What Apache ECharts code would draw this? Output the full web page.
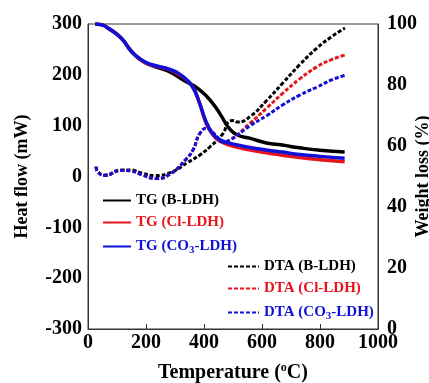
<!DOCTYPE html>
<html>
<head>
<meta charset="utf-8">
<script src="https://cdn.jsdelivr.net/npm/echarts@6/dist/echarts.min.js"></script>
<style>
  html, body { margin: 0; padding: 0; background: #fff; }
  #chart { width: 429px; height: 383px; }
</style>
</head>
<body>
<div id="chart"></div>
<script>
// TG curves (weight loss %, right axis)
const tgBT = [25, 45, 70, 115, 150, 185, 230, 275, 330, 385, 430, 460, 485, 515, 560, 615, 670, 730, 800, 885];
const tgBW = [100, 99.8, 98.6, 95.3, 91, 88, 86, 84.6, 81.6, 78.4, 74, 69.8, 66, 63.6, 62.5, 61, 60.3, 59.4, 58.6, 58];

const tgXT = [25, 45, 70, 115, 150, 185, 215, 285, 330, 360, 385, 405, 428, 455, 515, 615, 670, 730, 800, 885];
const tgClW = [100, 99.8, 98.6, 95.3, 91, 88, 86.6, 84.9, 82.4, 79.5, 74, 68, 64, 61.6, 59.6, 57.8, 57, 56.2, 55.5, 54.8];
const tgCO3W = [100, 99.8, 98.6, 95.3, 91, 88.2, 86.8, 85, 82.6, 79.5, 74, 68.5, 64.3, 62, 60.3, 58.7, 58, 57.2, 56.6, 56];

// DTA curves (heat flow mW, left axis)
const dtaBT = [28, 34, 59, 114, 148, 183, 231, 286, 345, 385, 420, 466, 483, 500, 517, 559, 617, 672, 730, 790, 840, 886];
const dtaBH = [19, 9, 3, 13, 13, 7, 2, 8, 28, 42, 58, 85, 107, 110, 107, 118, 150, 184, 220, 253, 275, 292];

const dtaXT = [28, 34, 59, 114, 148, 183, 235, 286, 341, 362, 386, 410, 428, 445, 462, 490, 559, 617, 672, 730, 790, 840, 886];
const dtaClH = [19, 9, 2, 12, 11, 4, -4, 6, 36, 52, 85, 95, 88, 78, 68, 72, 105, 135, 164, 192, 216, 230, 239];
const dtaCO3H = [19, 9, 2, 12, 11, 4, -4, 6, 36, 52, 85, 95, 88, 78, 68, 72, 100, 120, 141, 160, 176, 190, 199];

const tgNames = ['TG (B-LDH)', 'TG (Cl-LDH)', 'TG (CO3-LDH)'];
const dtaNames = ['DTA (B-LDH)', 'DTA (Cl-LDH)', 'DTA (CO3-LDH)'];
const colors = ['#000000', '#e8141b', '#1010d8'];

const pairs = (xs, ys) => xs.map((x, i) => [x, ys[i]]);
const font = 'Liberation Serif, Times New Roman, serif';

const legendLabel = (name) => {
  if (name.indexOf('CO3') >= 0) {
    const [a, b] = name.split('CO3');
    return '{n|' + a + 'CO}{s|3}{n|' + b + '}';
  }
  return '{n|' + name + '}';
};
const legendRich = {
  n: { fontSize: 15, fontWeight: 'bold', fontFamily: font, lineHeight: 15 },
  s: { fontSize: 11, fontWeight: 'bold', fontFamily: font, lineHeight: 11, padding: [8, 0, 0, 0] },
};

const chart = echarts.init(document.getElementById('chart'));

const tgSeries = [tgBW, tgClW, tgCO3W].map((w, i) => ({
  name: tgNames[i],
  type: 'line',
  yAxisIndex: 1,
  data: pairs(i === 0 ? tgBT : tgXT, w),
  smooth: true,
  showSymbol: false,
  symbol: 'none',
  lineStyle: { color: colors[i], width: 3.5 },
  itemStyle: { color: colors[i] },
  z: 3 + i,
}));

const dtaSeries = [dtaBH, dtaClH, dtaCO3H].map((h, i) => ({
  name: dtaNames[i],
  type: 'line',
  yAxisIndex: 0,
  data: pairs(i === 0 ? dtaBT : dtaXT, h),
  smooth: true,
  showSymbol: false,
  symbol: 'none',
  lineStyle: { color: colors[i], width: 3, type: [4, 2] },
  itemStyle: { color: colors[i] },
  z: 3 + i,
}));

// hide the symbol that line legends draw in the middle of the icon
const noMarker = { color: 'rgba(0,0,0,0)', borderWidth: 0, borderColor: 'rgba(0,0,0,0)' };

chart.setOption({
  animation: false,
  grid: {
    left: 88, right: 51, top: 24, bottom: 54,
    outerBoundsMode: 'none',
    show: true, borderColor: '#333', borderWidth: 1,
  },
  legend: [
    {
      orient: 'vertical',
      left: 97,
      top: 188,
      itemWidth: 28,
      itemHeight: 14,
      itemGap: 7,
      itemStyle: noMarker,
      formatter: legendLabel,
      data: tgNames.map((n, i) => ({ name: n, textStyle: { color: colors[i], rich: legendRich } })),
    },
    {
      orient: 'vertical',
      left: 222,
      top: 254,
      itemWidth: 31,
      itemHeight: 14,
      itemGap: 7,
      itemStyle: noMarker,
      formatter: legendLabel,
      data: dtaNames.map((n, i) => ({ name: n, textStyle: { color: colors[i], rich: legendRich } })),
    },
  ],
  xAxis: {
    type: 'value',
    min: 0,
    max: 1000,
    interval: 200,
    name: '{t|Temperature (}{o|o}{t|C)}',
    nameLocation: 'middle',
    nameGap: 33,
    nameMoveOverlap: false,
    nameTextStyle: {
      rich: {
        t: { fontSize: 20, fontWeight: 'bold', fontFamily: font, color: '#000' },
        o: { fontSize: 12, fontWeight: 'bold', fontFamily: font, color: '#000', padding: [0, 0, 9, 0] },
      },
    },
    axisLine: { onZero: false, lineStyle: { color: '#333', width: 1 } },
    axisTick: { inside: true, length: 5, lineStyle: { color: '#333' } },
    axisLabel: {
      fontSize: 20, fontWeight: 'bold', fontFamily: font, color: '#000', margin: 4,
      formatter: (v) => String(v),
    },
    splitLine: { show: false },
  },
  yAxis: [
    {
      type: 'value',
      min: -300,
      max: 300,
      interval: 100,
      name: 'Heat flow (mW)',
      nameLocation: 'middle',
      nameGap: 57,
      nameMoveOverlap: false,
      nameTextStyle: { fontSize: 18, fontWeight: 'bold', fontFamily: font, color: '#000' },
      axisLine: { show: true, onZero: false, lineStyle: { color: '#333', width: 1 } },
      axisTick: { show: false },
      axisLabel: { fontSize: 20, fontWeight: 'bold', fontFamily: font, color: '#000', margin: 6 },
      splitLine: { show: false },
    },
    {
      type: 'value',
      position: 'right',
      min: 0,
      max: 100,
      interval: 20,
      name: 'Weight loss (%)',
      nameLocation: 'middle',
      nameGap: 36,
      nameMoveOverlap: false,
      nameTextStyle: { fontSize: 18, fontWeight: 'bold', fontFamily: font, color: '#000' },
      axisLine: { show: true, onZero: false, lineStyle: { color: '#333', width: 1 } },
      axisTick: { show: false },
      axisLabel: { fontSize: 20, fontWeight: 'bold', fontFamily: font, color: '#000', margin: 9 },
      splitLine: { show: false },
    },
  ],
  series: [...tgSeries, ...dtaSeries],
});
</script>
</body>
</html>
